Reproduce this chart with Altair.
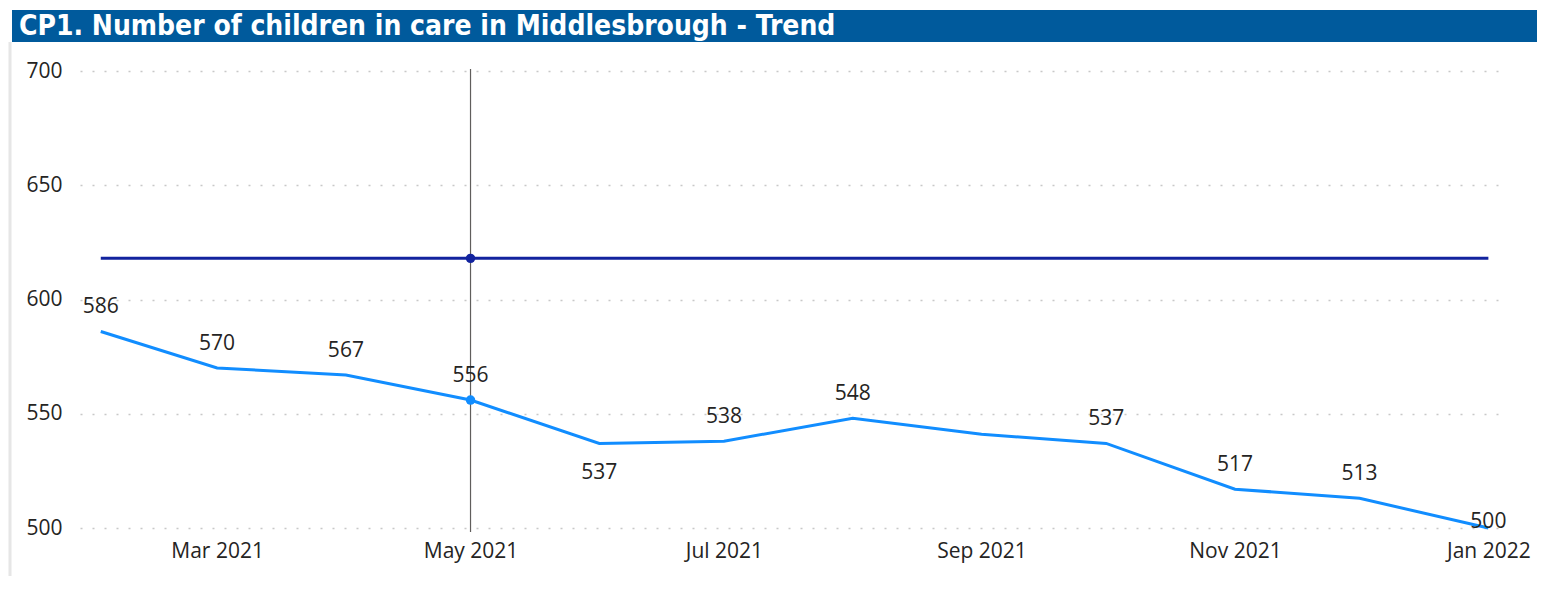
import altair as alt
import pandas as pd

months = ["2021-02-01", "2021-03-01", "2021-04-01", "2021-05-01", "2021-06-01", "2021-07-01",
          "2021-08-01", "2021-09-01", "2021-10-01", "2021-11-01", "2021-12-01", "2022-01-01"]
children = [586, 570, 567, 556, 537, 538, 548, 541, 537, 517, 513, 500]
labels = ["586", "570", "567", "556", "537", "538", "548", "", "537", "517", "513", "500"]
label_pos = ["above", "above", "above", "above", "below", "above", "above", "none", "above", "above", "above", "on"]
target = 618
highlight = "2021-05-01"
title_text = "CP1. Number of children in care in Middlesbrough - Trend"

df = pd.DataFrame({"date": months, "value": children, "label": labels, "pos": label_pos})
df["target"] = target
hl = df[df["date"] == highlight]

FONT = "Open Sans"
FS = 21
W, H = 1425, 457

x_scale = alt.Scale(type="utc",
                    domain=[alt.DateTime(year=2021, month=1, date=27, utc=True),
                            alt.DateTime(year=2022, month=1, date=5, utc=True)])
x_axis = alt.Axis(title=None, labelExpr="utcFormat(datum.value, '%b %Y')",
                  values=[alt.DateTime(year=2021, month=m, date=1, utc=True) for m in (3, 5, 7, 9, 11)]
                  + [alt.DateTime(year=2022, month=1, date=1, utc=True)],
                  grid=False, ticks=False, domain=False, labelPadding=12,
                  labelFont=FONT, labelFontSize=FS, labelColor="#252423")
x = alt.X("date:T", scale=x_scale, axis=x_axis)
y_scale = alt.Scale(domain=[500, 700], nice=False, zero=False)
y_axis = alt.Axis(title=None, values=[500, 550, 600, 650, 700], ticks=False, domain=False,
                  labelPadding=18, labelFont=FONT, labelFontSize=FS, labelColor="#252423",
                  grid=True, gridColor="#c8c8c8", gridDash=[2, 10], gridWidth=1.5)
y = alt.Y("value:Q", scale=y_scale, axis=y_axis)
yt = alt.Y("target:Q", scale=y_scale, axis=y_axis)

base = alt.Chart(df)

vrule = alt.Chart(hl).mark_rule(color="#605e5c", strokeWidth=1.2).encode(
    x=x, y=alt.value(-2), y2=alt.value(H + 4))

target_line = base.mark_line(color="#12239E", strokeWidth=3).encode(x=x, y=yt)
main_line = base.mark_line(color="#118DFF", strokeWidth=3).encode(x=x, y=y)

hl_target = alt.Chart(hl).mark_circle(color="#12239E", size=90, opacity=1).encode(x=x, y=yt)
hl_main = alt.Chart(hl).mark_circle(color="#118DFF", size=90, opacity=1).encode(x=x, y=y)

text_props = dict(font=FONT, fontSize=FS, color="#252423", baseline="middle", align="center")
lab_above = base.transform_filter(alt.datum.pos == "above").mark_text(dy=-24, **text_props).encode(
    x=x, y=y, text="label:N")
lab_below = base.transform_filter(alt.datum.pos == "below").mark_text(dy=30, **text_props).encode(
    x=x, y=y, text="label:N")
lab_on = base.transform_filter(alt.datum.pos == "on").mark_text(dy=-6, **text_props).encode(
    x=x, y=y, text="label:N")

title_bar = alt.Chart(pd.DataFrame({"t": [title_text]})).mark_rect(color="#005A9C").encode(
    x=alt.value(-68), x2=alt.value(W + 40), y=alt.value(-61), y2=alt.value(-29))
title = alt.Chart(pd.DataFrame({"t": [title_text]})).mark_text(
    font="DejaVu Sans Condensed", fontSize=28, fontWeight="bold", color="white",
    align="left", baseline="middle").encode(x=alt.value(-61), y=alt.value(-44), text="t:N")
left_border = alt.Chart(pd.DataFrame({"t": [1]})).mark_rule(color="#e6e6e6", strokeWidth=3).encode(
    x=alt.value(-70), y=alt.value(-29), y2=alt.value(H + 52))

chart = alt.layer(
    vrule, target_line, main_line, hl_target, hl_main, lab_above, lab_below, lab_on,
    title_bar, title, left_border
).properties(
    width=W, height=H,
    background="white",
    autosize=alt.AutoSizeParams(type="none"),
    padding={"left": 72, "top": 63, "right": 32, "bottom": 48},
).configure_view(strokeWidth=0)

chart.save("out.html", embed_options={"renderer": "svg", "actions": False})
